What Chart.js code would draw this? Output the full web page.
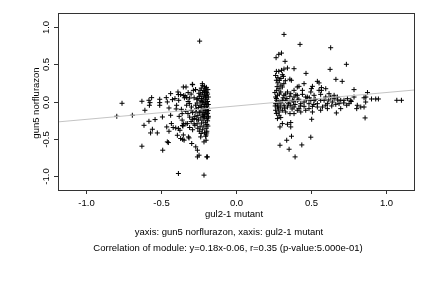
<!DOCTYPE html>
<html>
<head>
<meta charset="utf-8">
<script src="https://cdn.jsdelivr.net/npm/chart.js@4/dist/chart.umd.min.js"></script>
<style>
  html, body { margin: 0; padding: 0; background: #fff; }
  #c { display: block; }
</style>
</head>
<body>
<canvas id="c" width="432" height="288"></canvas>
<script>
// gul2-1 mutant (x) vs gun5 norflurazon (y)
const leftCluster = [
  [-0.797,-0.199],[-0.762,-0.024],[-0.693,-0.185],[-0.629,0.003],[-0.609,-0.118],[-0.615,-0.32],
  [-0.629,-0.601],[-0.582,0.016],[-0.575,-0.015],[-0.579,-0.051],[-0.564,0.052],[-0.582,-0.266],
  [-0.541,-0.243],[-0.559,-0.373],[-0.571,-0.423],[-0.526,-0.423],[-0.51,0.03],[-0.51,-0.015],
  [-0.51,-0.051],[-0.492,-0.208],[-0.49,-0.655],[-0.466,0.052],[-0.459,-0.006],[-0.437,0.106],
  [-0.448,-0.087],[-0.437,-0.185],[-0.463,-0.342],[-0.448,-0.4],[-0.459,-0.543],[-0.452,-0.552],
  [-0.425,0.025],[-0.432,-0.297],[-0.388,0.128],[-0.385,0.093],[-0.408,0.039],[-0.397,-0.051],
  [-0.403,-0.356],[-0.385,-0.364],[-0.375,-0.387],[-0.392,-0.454],[-0.385,-0.968],[-0.365,-0.105],
  [-0.352,0.195],[-0.35,0.08],[-0.34,0.075],[-0.33,0.055],[-0.345,0.05],[-0.336,-0.131],
  [-0.321,-0.162],[-0.35,-0.3],[-0.355,-0.33],[-0.335,-0.3],[-0.37,-0.498],[-0.347,-0.52],
  [-0.314,-0.49],[-0.292,0.231],[-0.31,-0.028],[-0.298,-0.074],[-0.285,0.15],[-0.31,-0.21],
  [-0.3,-0.27],[-0.29,-0.24],[-0.28,-0.3],[-0.296,-0.565],[-0.258,-0.655],[-0.247,-0.722],
  [-0.258,-0.745],[-0.214,-0.99],[-0.196,-0.745],[-0.225,0.24],[-0.203,-0.467],[-0.196,-0.423],
  [-0.2,-0.521],[-0.214,-0.543],[-0.243,0.812],[-0.223,0.217],[-0.27,0.16],[-0.28,-0.23],
  [-0.269,-0.61],[-0.236,-0.476],[-0.191,-0.745],[-0.42,-0.35],[-0.383,0.016],[-0.37,0.093],
  [-0.36,-0.163],[-0.358,-0.323],[-0.356,-0.51],[-0.352,-0.45],[-0.334,0.195],[-0.325,-0.297],
  [-0.318,-0.476],[-0.31,0.047],[-0.29,0.226],[-0.271,0.16],[-0.4,-0.1],[-0.38,-0.2],
  [-0.36,-0.25],[-0.33,-0.05],[-0.32,0.0],[-0.3,0.1],[-0.32,0.12],[-0.31,-0.35],
  [-0.29,-0.38],[-0.3,-0.12],[-0.28,0.05],[-0.29,-0.15],
  [-0.21,0.2],[-0.205,0.17],[-0.215,0.15],[-0.2,0.14],[-0.195,0.12],[-0.225,0.12],
  [-0.21,0.1],[-0.19,0.1],[-0.235,0.09],[-0.2,0.08],[-0.22,0.07],[-0.245,0.07],
  [-0.185,0.06],[-0.205,0.05],[-0.23,0.04],[-0.255,0.04],[-0.195,0.03],[-0.215,0.02],
  [-0.24,0.01],[-0.19,0.0],[-0.205,-0.01],[-0.225,-0.01],[-0.26,-0.02],[-0.2,-0.03],
  [-0.185,-0.04],[-0.215,-0.04],[-0.24,-0.05],[-0.195,-0.06],[-0.21,-0.07],[-0.23,-0.07],
  [-0.25,-0.08],[-0.19,-0.09],[-0.2,-0.1],[-0.22,-0.1],[-0.265,-0.1],[-0.185,-0.12],
  [-0.205,-0.12],[-0.235,-0.13],[-0.195,-0.14],[-0.215,-0.15],[-0.245,-0.15],[-0.19,-0.16],
  [-0.2,-0.18],[-0.225,-0.18],[-0.255,-0.19],[-0.185,-0.2],[-0.21,-0.21],[-0.235,-0.22],
  [-0.195,-0.23],[-0.22,-0.25],[-0.25,-0.25],[-0.19,-0.26],[-0.205,-0.28],[-0.23,-0.29],
  [-0.26,-0.3],[-0.195,-0.31],[-0.215,-0.33],[-0.24,-0.34],[-0.2,-0.36],[-0.225,-0.38],
  [-0.195,-0.4],[-0.21,-0.42],[-0.2,-0.45],[-0.248,0.11],[-0.24,0.15],[-0.232,0.18],
  [-0.198,0.19],[-0.188,0.16],[-0.262,0.03],[-0.27,-0.05],[-0.268,-0.14],[-0.275,-0.2],
  [-0.262,-0.24],[-0.275,-0.32],[-0.255,-0.36],[-0.245,-0.4],[-0.233,-0.43],[-0.188,-0.33],
  [-0.186,-0.22],[-0.21,0.13],[-0.228,0.0],[-0.212,-0.17],[-0.202,0.06],[-0.218,-0.2]
];

const rightCluster = [
  [0.321,0.902],[0.428,0.768],[0.633,0.723],[0.268,0.589],[0.286,0.634],[0.304,0.651],
  [0.328,0.54],[0.738,0.5],[0.27,0.405],[0.286,0.405],[0.304,0.419],[0.321,0.436],
  [0.344,0.45],[0.388,0.441],[0.629,0.432],[0.468,0.378],[0.317,0.338],[0.31,0.36],
  [0.27,0.285],[0.29,0.285],[0.36,0.3],[0.37,0.285],[0.668,0.298],[0.71,0.271],
  [0.455,0.24],[0.421,0.204],[0.544,0.271],[0.555,0.25],[0.504,0.173],[0.511,0.204],
  [0.571,0.187],[0.571,0.15],[0.789,0.16],[0.879,0.12],[0.868,0.06],[0.906,0.034],
  [0.934,0.034],[0.952,0.034],[1.075,0.016],[1.106,0.016],[0.863,-0.221],[0.671,-0.154],
  [0.506,-0.239],[0.366,-0.283],[0.288,-0.185],[0.277,-0.23],[0.299,-0.216],[0.31,-0.297],
  [0.294,-0.342],[0.366,-0.342],[0.344,-0.306],[0.371,-0.467],[0.5,-0.48],[0.339,-0.521],
  [0.294,-0.588],[0.44,-0.584],[0.355,-0.642],[0.395,-0.745],
  [0.633,0.06],[0.656,0.038],[0.678,0.06],[0.7,0.016],[0.722,0.016],[0.745,0.038],
  [0.767,0.016],[0.756,-0.029],[0.689,-0.029],[0.667,-0.038],[0.644,-0.007],[0.611,-0.029],
  [0.589,0.016],[0.566,0.016],[0.544,-0.029],[0.522,0.016],[0.5,0.016],[0.488,-0.029],
  [0.455,-0.007],[0.433,-0.029],[0.41,0.016],[0.544,-0.074],[0.578,-0.074],[0.611,-0.096],
  [0.488,-0.096],[0.466,-0.118],[0.433,-0.141],[0.421,-0.096],[0.511,-0.141],[0.566,-0.118],
  [0.811,-0.051],[0.834,-0.074],[0.856,-0.074],[0.807,-0.096],[0.867,-0.007],[0.856,0.05],
  [0.789,0.06],[0.7,-0.096],[0.656,0.083],[0.622,0.105],[0.6,0.06],[0.522,0.083],
  [0.477,0.06],[0.444,0.096],[0.41,0.083],[0.388,0.06],[0.377,0.016],[0.355,-0.007],
  [0.332,0.016],[0.31,0.016],[0.288,-0.007],[0.272,0.016],[0.265,-0.029],[0.277,-0.074],
  [0.299,-0.074],[0.321,-0.051],[0.344,-0.074],[0.366,-0.051],[0.388,-0.074],[0.41,-0.118],
  [0.31,-0.118],[0.288,-0.141],[0.265,-0.118],[0.332,-0.141],[0.361,-0.163],[0.388,-0.163],
  [0.566,0.096],[0.5,0.128],[0.366,0.105],[0.321,0.083],[0.277,0.083],[0.265,0.06],
  [0.272,0.15],[0.288,0.172],[0.31,0.195],[0.299,0.128],[0.344,0.128],[0.388,0.15],
  [0.41,0.195],[0.444,0.15],[0.466,0.06],[0.555,0.15],[0.6,0.172],[0.455,-0.065],
  [0.511,-0.065],
  [0.27,0.04],[0.28,-0.05],[0.29,0.1],[0.3,-0.02],[0.315,0.05],[0.325,-0.09],
  [0.34,0.04],[0.35,-0.03],[0.36,0.07],[0.375,-0.1],[0.385,0.0],[0.395,-0.04],
  [0.3,0.22],[0.32,0.24],[0.28,0.25],[0.275,0.2],[0.27,-0.16],[0.285,-0.1],
  [0.33,0.1],[0.4,0.09],[0.42,0.03],[0.43,-0.06],[0.47,0.02],[0.49,0.05],
  [0.52,-0.04],[0.53,0.03],[0.6,-0.05],[0.62,0.02],[0.64,-0.06],[0.68,0.02],
  [0.72,-0.02],[0.74,-0.05],[0.77,0.0],[0.265,0.35],[0.28,0.32],[0.3,0.31],
  [0.33,0.28],[0.26,0.12],[0.262,-0.06]
];

const xTicks = [-1.0, -0.5, 0.0, 0.5, 1.0];
const yTicks = [-1.0, -0.5, 0.0, 0.5, 1.0];
const axisMin = -1.19;
const axisMax = 1.19;

// fitted line as printed under the chart
const slope = 0.18;
const intercept = -0.06;

const xTitle = 'gul2-1 mutant';
const yTitle = 'gun5 norflurazon';
const subTitle = 'yaxis: gun5 norflurazon, xaxis: gul2-1 mutant';
const caption = 'Correlation of module: y=0.18x-0.06, r=0.35 (p-value:5.000e-01)';

const FONT = '9.5px "Liberation Sans", Arial, sans-serif';

// box, ticks and all texts, R style
const decorations = {
  id: 'decorations',
  afterDraw(chart) {
    const { ctx, chartArea: a } = chart;
    const sx = chart.scales.x, sy = chart.scales.y;
    ctx.save();
    ctx.strokeStyle = '#333';
    ctx.lineWidth = 1;
    ctx.strokeRect(a.left + 0.5, a.top + 0.5, a.right - a.left, a.bottom - a.top);

    ctx.fillStyle = '#000';
    ctx.font = FONT;
    ctx.textAlign = 'center';
    ctx.textBaseline = 'middle';

    xTicks.forEach(v => {
      const px = Math.round(sx.getPixelForValue(v)) + 0.5;
      ctx.beginPath();
      ctx.moveTo(px, a.bottom);
      ctx.lineTo(px, a.bottom + 4);
      ctx.stroke();
      ctx.fillText(v.toFixed(1), px, 203.5);
    });

    yTicks.forEach(v => {
      const py = Math.round(sy.getPixelForValue(v)) + 0.5;
      ctx.beginPath();
      ctx.moveTo(a.left, py);
      ctx.lineTo(a.left - 4, py);
      ctx.stroke();
      ctx.save();
      ctx.translate(46, py);
      ctx.rotate(-Math.PI / 2);
      ctx.fillText(v.toFixed(1), 0, 0);
      ctx.restore();
    });

    ctx.fillText(xTitle, 234, 214);
    ctx.fillText(subTitle, 229, 232);
    ctx.fillText(caption, 228, 248.5);

    ctx.save();
    ctx.translate(36, 103);
    ctx.rotate(-Math.PI / 2);
    ctx.fillText(yTitle, 0, 0);
    ctx.restore();
    ctx.restore();
  }
};

const points = leftCluster.concat(rightCluster).map(p => ({ x: p[0], y: p[1] }));

new Chart(document.getElementById('c'), {
  type: 'scatter',
  data: {
    datasets: [
      {
        type: 'line',
        data: [
          { x: axisMin, y: slope * axisMin + intercept },
          { x: axisMax, y: slope * axisMax + intercept }
        ],
        borderColor: '#c4c4c4',
        borderWidth: 1,
        pointRadius: 0,
        fill: false
      },
      {
        data: points,
        pointStyle: 'cross',
        pointRadius: 2.5,
        borderColor: '#000',
        backgroundColor: '#000',
        borderWidth: 1
      }
    ]
  },
  options: {
    responsive: false,
    animation: false,
    layout: { padding: { left: 58, right: 18, top: 13, bottom: 98 } },
    scales: {
      x: { type: 'linear', min: axisMin, max: axisMax, display: false },
      y: { type: 'linear', min: axisMin, max: axisMax, display: false }
    },
    plugins: {
      legend: { display: false },
      tooltip: { enabled: false }
    }
  },
  plugins: [decorations]
});
</script>
</body>
</html>
